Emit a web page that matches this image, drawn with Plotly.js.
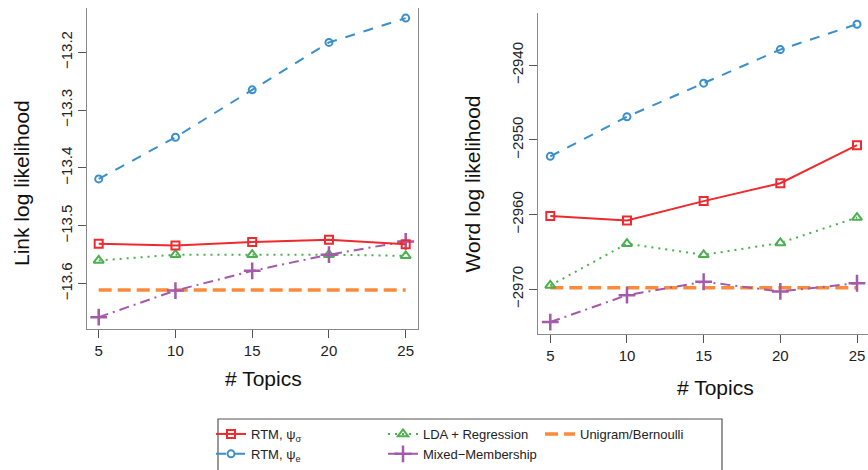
<!DOCTYPE html>
<html>
<head>
<meta charset="utf-8">
<script src="https://cdn.plot.ly/plotly-3.0.1.min.js"></script>
<style>html,body{margin:0;padding:0;background:#fff;}#chart{width:868px;height:470px;}</style>
</head>
<body>
<div id="chart"></div>
<script>
// ---- data ----
var topics = [5, 10, 15, 20, 25];
var topicTicks = ["5", "10", "15", "20", "25"];

var linkRTMsigma = [-13.531, -13.534, -13.528, -13.524, -13.532];
var linkRTMe     = [-13.419, -13.347, -13.265, -13.183, -13.141];
var linkLDA      = [-13.560, -13.550, -13.550, -13.550, -13.552];
var linkMixed    = [-13.658, -13.612, -13.578, -13.550, -13.527];
var linkUnigram  = [-13.611, -13.611, -13.611, -13.611, -13.611];

var wordRTMsigma = [-2960.2, -2960.8, -2958.2, -2955.8, -2950.7];
var wordRTMe     = [-2952.2, -2946.9, -2942.4, -2937.9, -2934.5];
var wordLDA      = [-2969.5, -2963.9, -2965.4, -2963.8, -2960.4];
var wordMixed    = [-2974.4, -2970.8, -2969.0, -2970.3, -2969.2];
var wordUnigram  = [-2969.8, -2969.8, -2969.8, -2969.8, -2969.8];

var linkTickVals = [-13.6, -13.5, -13.4, -13.3, -13.2];
var linkTickText = ["\u221213.6", "\u221213.5", "\u221213.4", "\u221213.3", "\u221213.2"];
var wordTickVals = [-2970, -2960, -2950, -2940];
var wordTickText = ["\u22122970", "\u22122960", "\u22122950", "\u22122940"];

var seriesNames = ["RTM, \u03c8<sub>\u03c3</sub>", "RTM, \u03c8<sub>e</sub>", "LDA + Regression", "Mixed\u2212Membership", "Unigram/Bernoulli"];

// ---- styles ----
var FONT = "Liberation Sans, Arial, Helvetica, sans-serif";
var styles = [
  {color: "#EE2A2E", dash: "solid", width: 2, mode: "lines+markers", marker: {symbol: "square-open", size: 8, line: {width: 2}}, legend: "legend"},
  {color: "#3B8FCB", dash: "10px,9px", width: 2, mode: "lines+markers", marker: {symbol: "circle-open", size: 7, line: {width: 2}}, legend: "legend"},
  {color: "#4CB050", dash: "2px,5px", width: 2, mode: "lines+markers", marker: {symbol: "triangle-up-open", size: 9, line: {width: 2}}, legend: "legend2"},
  {color: "#A35AA8", dash: "10px,5px,2px,5px", width: 2, mode: "lines+markers", marker: {symbol: "cross-thin-open", size: 12, line: {width: 2.5}}, legend: "legend2"},
  {color: "#FB8B3C", dash: "13px,6px", width: 3.5, mode: "lines", marker: {}, legend: "legend3"}
];

var linkSeries = [linkRTMsigma, linkRTMe, linkLDA, linkMixed, linkUnigram];
var wordSeries = [wordRTMsigma, wordRTMe, wordLDA, wordMixed, wordUnigram];
var drawOrder = [4, 2, 3, 1, 0];

var traces = [];
function mk(i, ys, xa, ya, show) {
  var s = styles[i];
  var m = JSON.parse(JSON.stringify(s.marker));
  m.color = s.color;
  if (m.line) m.line.color = s.color;
  return {
    x: topics, y: ys, xaxis: xa, yaxis: ya, type: "scatter", mode: s.mode,
    name: seriesNames[i], legendgroup: "g" + i, showlegend: show, legend: s.legend,
    line: {color: s.color, dash: s.dash, width: s.width}, marker: m, hoverinfo: "x+y+name"
  };
}
drawOrder.forEach(function (i) { traces.push(mk(i, linkSeries[i], "x", "y", false)); });
drawOrder.forEach(function (i) { traces.push(mk(i, wordSeries[i], "x2", "y2", false)); });
// legend entries (in legend order)
[0, 1, 2, 3, 4].forEach(function (i) {
  var t = mk(i, linkSeries[i], "x", "y", true);
  t.x = [null]; t.y = [null];
  traces.push(t);
});

function axisBase() {
  return {
    showgrid: false, zeroline: false, showline: true, linecolor: "#8a8a8a", linewidth: 1.3,
    ticks: "outside", ticklen: 8, tickwidth: 1, tickcolor: "#555",
    tickfont: {family: FONT, size: 15, color: "#222"}, fixedrange: true
  };
}
var W = 868, H = 470;
function px(v) { return v / W; }
function py(v) { return 1 - v / H; }

var xa = axisBase();
Object.assign(xa, {domain: [px(87), px(418)], range: [4.238, 25.801], tickmode: "array", tickvals: topics, ticktext: topicTicks, anchor: "y"});
var ya = axisBase();
Object.assign(ya, {domain: [py(329), py(8)], range: [-13.6785, -13.1235], tickmode: "array", tickvals: linkTickVals, ticktext: linkTickText, tickangle: -90, mirror: true, anchor: "x"});
var xa2 = axisBase();
Object.assign(xa2, {domain: [px(538.3), 1], range: [4.2175, 25.717], tickmode: "array", tickvals: topics, ticktext: topicTicks, anchor: "y2"});
var ya2 = axisBase();
Object.assign(ya2, {domain: [py(334), py(13)], range: [-2976.0, -2933.0], tickmode: "array", tickvals: wordTickVals, ticktext: wordTickText, tickangle: -90, anchor: "x2"});

function legendCfg(xpx) {
  return {
    x: px(xpx), y: py(419), xanchor: "left", yanchor: "top", orientation: "v",
    bgcolor: "rgba(0,0,0,0)", borderwidth: 0, itemwidth: 30, tracegroupgap: 0,
    font: {family: FONT, size: 13, color: "#222"}, itemclick: false, itemdoubleclick: false
  };
}

var titleFont = {family: FONT, size: 21, color: "#111"};
var layout = {
  width: W, height: H, margin: {l: 0, r: 0, t: 0, b: 0},
  paper_bgcolor: "#fff", plot_bgcolor: "#fff",
  xaxis: xa, yaxis: ya, xaxis2: xa2, yaxis2: ya2,
  showlegend: true,
  legend: legendCfg(211),
  legend2: legendCfg(383),
  legend3: legendCfg(540),
  shapes: [
    {type: "rect", xref: "paper", yref: "paper", x0: px(218), x1: px(722), y0: -0.1, y1: py(419), line: {color: "#555", width: 1.2}, fillcolor: "rgba(0,0,0,0)"}
  ],
  annotations: [
    {text: "# Topics", xref: "paper", yref: "paper", x: px(263), y: py(378), xanchor: "center", yanchor: "middle", showarrow: false, font: titleFont},
    {text: "# Topics", xref: "paper", yref: "paper", x: px(715), y: py(387), xanchor: "center", yanchor: "middle", showarrow: false, font: titleFont},
    {text: "Link log likelihood", xref: "paper", yref: "paper", x: px(21), y: py(183), xanchor: "center", yanchor: "middle", textangle: -90, showarrow: false, font: titleFont},
    {text: "Word log likelihood", xref: "paper", yref: "paper", x: px(472), y: py(184.5), xanchor: "center", yanchor: "middle", textangle: -90, showarrow: false, font: titleFont}
  ]
};

Plotly.newPlot("chart", traces, layout, {displayModeBar: false, staticPlot: true});
</script>
</body>
</html>
